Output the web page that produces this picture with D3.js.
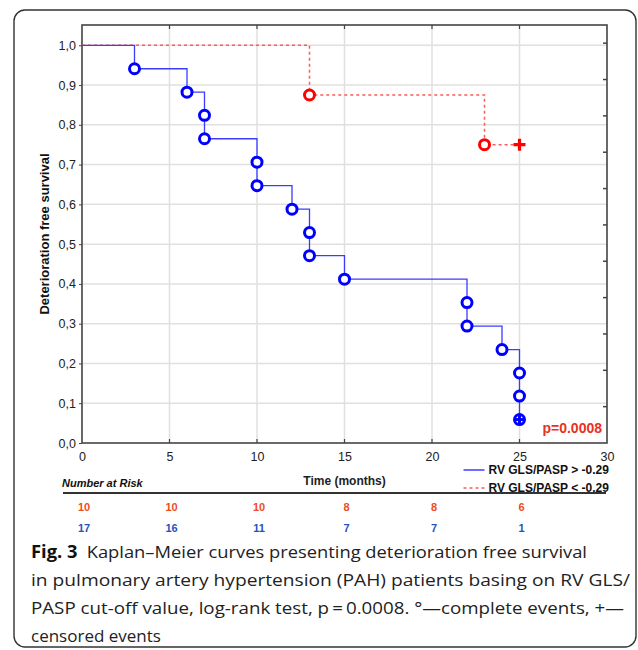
<!DOCTYPE html>
<html>
<head>
<meta charset="utf-8">
<script src="https://cdn.jsdelivr.net/npm/d3@7"></script>
<style>
  body { margin: 0; background: #fff; }
  svg text { font-family: "Liberation Sans", Arial, sans-serif; }
  svg text.caption { font-family: "Open Sans", "Noto Sans", sans-serif; }
</style>
</head>
<body>
<div class="chart"></div>
<script>
// data
const xTicks = [0, 5, 10, 15, 20, 25, 30];
const yTicks = [0, 0.1, 0.2, 0.3, 0.4, 0.5, 0.6, 0.7, 0.8, 0.9, 1.0];

// blue group: RV GLS/PASP > -0.29 (step path + event markers)
const blueSteps = [
  [0, 1], [3, 1], [3, 0.941], [6, 0.941], [6, 0.882], [7, 0.882], [7, 0.765],
  [10, 0.765], [10, 0.647], [12, 0.647], [12, 0.588], [13, 0.588], [13, 0.471],
  [15, 0.471], [15, 0.412], [22, 0.412], [22, 0.294], [24, 0.294], [24, 0.235],
  [25, 0.235], [25, 0.059]
];
const blueEvents = [
  [3, 0.941], [6, 0.882], [7, 0.824], [7, 0.765], [10, 0.706], [10, 0.647],
  [12, 0.588], [13, 0.529], [13, 0.471], [15, 0.412], [22, 0.353], [22, 0.294],
  [24, 0.235], [25, 0.176], [25, 0.118], [25, 0.059]
];
const blueCensored = [[25, 0.059]];

// red group: RV GLS/PASP < -0.29
const redSteps = [[0, 1], [13, 1], [13, 0.875], [23, 0.875], [23, 0.75], [25, 0.75]];
const redEvents = [[13, 0.875], [23, 0.75]];
const redCensored = [[25, 0.75]];

const riskTimes = [0, 5, 10, 15, 20, 25];
const riskRed = [10, 10, 10, 8, 8, 6];
const riskBlue = [17, 16, 11, 7, 7, 1];

const legendLabels = ["RV GLS/PASP > -0.29", "RV GLS/PASP < -0.29"];

const captionLines = [
  "in pulmonary artery hypertension (PAH) patients basing on RV GLS/",
  "PASP cut-off value, log-rank test, p\u2009=\u20090.0008. \u00b0\u2014complete events, +\u2014",
  "censored events"
];

const W = 638, H = 650;
const margin = {top: 25, right: 31, bottom: 207, left: 82};
const width = W - margin.left - margin.right,
      height = H - margin.top - margin.bottom;

const blue = "#0000ff", blueLine = "#3c3cff";
const red = "#ff0000", redLine = "#ff5a5a";

const root = d3.select(".chart").append("svg")
    .attr("width", W)
    .attr("height", H);

// outer panel box
root.append("rect")
    .attr("x", 14).attr("y", 10)
    .attr("width", 622).attr("height", 637)
    .attr("rx", 11)
    .attr("fill", "none")
    .attr("stroke", "#333")
    .attr("stroke-width", 1.4);

const svg = root.append("g")
    .attr("transform", `translate(${margin.left},${margin.top})`);

const xScale = d3.scaleLinear().domain([0, 30]).range([0, width]);
const yScale = d3.scaleLinear().domain([0, 1.051]).range([height, 0]);
// right side has its own unlabeled tick marks
const y2Scale = d3.scaleLinear().domain([0, 11.5]).range([height, 0]);

// grid
svg.append("g")
    .selectAll("line")
    .data(xTicks.slice(1, -1))
    .join("line")
    .attr("x1", d => xScale(d)).attr("x2", d => xScale(d))
    .attr("y1", 0).attr("y2", height)
    .attr("stroke", "#e0e0e0")
    .attr("stroke-width", 1.5);

svg.append("g")
    .selectAll("line")
    .data(yTicks.slice(1))
    .join("line")
    .attr("x1", 0).attr("x2", width)
    .attr("y1", d => yScale(d)).attr("y2", d => yScale(d))
    .attr("stroke", "#e0e0e0")
    .attr("stroke-width", 1.5);

// axes
const fmt = d => d3.format(".1f")(d).replace(".", ",");

svg.append("g")
    .attr("class", "axis y-axis")
    .call(d3.axisLeft(yScale).tickValues(yTicks).tickFormat(fmt).tickSize(3).tickPadding(3))
    .call(g => g.select(".domain").remove())
    .call(g => g.selectAll("text").attr("font-size", 12.5).attr("fill", "#222"))
    .call(g => g.selectAll(".tick line").attr("stroke", "#444"));

svg.append("g")
    .attr("class", "axis x-axis")
    .attr("transform", `translate(0,${height})`)
    .call(d3.axisBottom(xScale).tickValues(xTicks).tickSize(0).tickPadding(9))
    .call(g => g.select(".domain").remove())
    .call(g => g.selectAll("text").attr("font-size", 12.5).attr("fill", "#222"));

// inner tick marks on bottom, top and right
svg.append("g")
    .selectAll("line")
    .data(xTicks.slice(1, -1))
    .join("line")
    .attr("x1", d => xScale(d)).attr("x2", d => xScale(d))
    .attr("y1", height).attr("y2", height - 4)
    .attr("stroke", "#444").attr("stroke-width", 1.2);

svg.append("g")
    .selectAll("line")
    .data(xTicks.slice(1, -1))
    .join("line")
    .attr("x1", d => xScale(d)).attr("x2", d => xScale(d))
    .attr("y1", 0).attr("y2", 4)
    .attr("stroke", "#444").attr("stroke-width", 1.2);

svg.append("g")
    .selectAll("line")
    .data(d3.range(1, 12))
    .join("line")
    .attr("x1", width).attr("x2", width - 4)
    .attr("y1", d => y2Scale(d)).attr("y2", d => y2Scale(d))
    .attr("stroke", "#444").attr("stroke-width", 1.5);

// frame
svg.append("rect")
    .attr("width", width).attr("height", height)
    .attr("fill", "none")
    .attr("stroke", "#444")
    .attr("stroke-width", 1.6);

// curves
const line = d3.line()
    .x(d => xScale(d[0]))
    .y(d => yScale(d[1]));

svg.append("path")
    .datum(redSteps)
    .attr("fill", "none")
    .attr("stroke", redLine)
    .attr("stroke-width", 1.5)
    .attr("stroke-dasharray", "3,3")
    .attr("d", line);

svg.append("path")
    .datum(blueSteps)
    .attr("fill", "none")
    .attr("stroke", blueLine)
    .attr("stroke-width", 1.3)
    .attr("d", line);

svg.append("g")
    .selectAll("circle")
    .data(redEvents)
    .join("circle")
    .attr("cx", d => xScale(d[0]))
    .attr("cy", d => yScale(d[1]))
    .attr("r", 5)
    .attr("fill", "#fff")
    .attr("stroke", red)
    .attr("stroke-width", 3);

svg.append("g")
    .selectAll("circle")
    .data(blueEvents)
    .join("circle")
    .attr("cx", d => xScale(d[0]))
    .attr("cy", d => yScale(d[1]))
    .attr("r", 5)
    .attr("fill", "#fff")
    .attr("stroke", blue)
    .attr("stroke-width", 3);

// censored marks
svg.append("g")
    .selectAll("path")
    .data(redCensored)
    .join("path")
    .attr("transform", d => `translate(${xScale(d[0])},${yScale(d[1])})`)
    .attr("d", "M-6,0H6M0,-6V6")
    .attr("stroke", red)
    .attr("stroke-width", 3.2);

svg.append("g")
    .selectAll("path")
    .data(blueCensored)
    .join("path")
    .attr("transform", d => `translate(${xScale(d[0])},${yScale(d[1])})`)
    .attr("d", "M-5,0H5M0,-5V5")
    .attr("stroke", blue)
    .attr("stroke-width", 3);

// p value
svg.append("text")
    .attr("x", width - 5)
    .attr("y", height - 10)
    .attr("text-anchor", "end")
    .attr("font-size", 14)
    .attr("font-weight", "bold")
    .attr("fill", "#e8321e")
    .text("p=0.0008");

// axis titles
svg.append("text")
    .attr("transform", `translate(-38,${height / 2 + 0}) rotate(-90)`)
    .attr("text-anchor", "middle")
    .attr("dy", "0.35em")
    .attr("font-size", 13)
    .attr("font-weight", "bold")
    .attr("fill", "#111")
    .text("Deterioration free survival");

svg.append("text")
    .attr("x", xScale(15))
    .attr("y", height + 42)
    .attr("text-anchor", "middle")
    .attr("font-size", 12)
    .attr("font-weight", "bold")
    .attr("fill", "#222")
    .text("Time (months)");

// legend
const legend = svg.append("g")
    .attr("transform", `translate(${xScale(21.8)},${height + 27})`);
legend.append("line")
    .attr("x1", 0).attr("x2", 21).attr("y1", 0).attr("y2", 0)
    .attr("stroke", blueLine).attr("stroke-width", 1.5);
legend.append("line")
    .attr("x1", 0).attr("x2", 21).attr("y1", 18).attr("y2", 18)
    .attr("stroke", redLine).attr("stroke-width", 1.5)
    .attr("stroke-dasharray", "3,3");
legend.selectAll("text")
    .data(legendLabels)
    .join("text")
    .attr("x", 25)
    .attr("y", (d, i) => i * 18)
    .attr("dy", "0.35em")
    .attr("font-size", 12)
    .attr("font-weight", "bold")
    .attr("fill", "#111")
    .text(d => d);

// number at risk table
svg.append("text")
    .attr("x", -20)
    .attr("y", height + 44)
    .attr("font-size", 11)
    .attr("font-weight", "bold")
    .attr("font-style", "italic")
    .attr("fill", "#111")
    .text("Number at Risk");

svg.append("line")
    .attr("x1", -19).attr("x2", width - 1)
    .attr("y1", height + 50).attr("y2", height + 50)
    .attr("stroke", "#333").attr("stroke-width", 2.2);

svg.append("g")
    .selectAll("text")
    .data(riskTimes)
    .join("text")
    .attr("x", d => xScale(d) + 2)
    .attr("y", height + 64)
    .attr("dy", "0.35em")
    .attr("text-anchor", "middle")
    .attr("font-size", 11)
    .attr("font-weight", "bold")
    .attr("fill", "#f04a24")
    .text((d, i) => riskRed[i]);

svg.append("g")
    .selectAll("text")
    .data(riskTimes)
    .join("text")
    .attr("x", d => xScale(d) + 2)
    .attr("y", height + 85)
    .attr("dy", "0.35em")
    .attr("text-anchor", "middle")
    .attr("font-size", 11)
    .attr("font-weight", "bold")
    .attr("fill", "#2552c2")
    .text((d, i) => riskBlue[i]);

// caption
const cap = root.append("g")
    .attr("font-size", 17)
    .attr("fill", "#222");

const first = cap.append("text")
    .attr("class", "caption")
    .attr("x", 31).attr("y", 558)
    .attr("textLength", 556)
    .attr("lengthAdjust", "spacingAndGlyphs");
first.append("tspan").attr("font-weight", "bold").attr("fill", "#111").text("Fig. 3");
first.append("tspan").text("\u2002Kaplan\u2013Meier curves presenting deterioration free survival");

cap.selectAll("text.line")
    .data(captionLines)
    .join("text")
    .attr("class", "caption line")
    .attr("x", 31)
    .attr("y", (d, i) => 586 + i * 28)
    .attr("textLength", (d, i) => [599, 593, null][i])
    .attr("lengthAdjust", "spacingAndGlyphs")
    .text(d => d);
</script>
</body>
</html>
